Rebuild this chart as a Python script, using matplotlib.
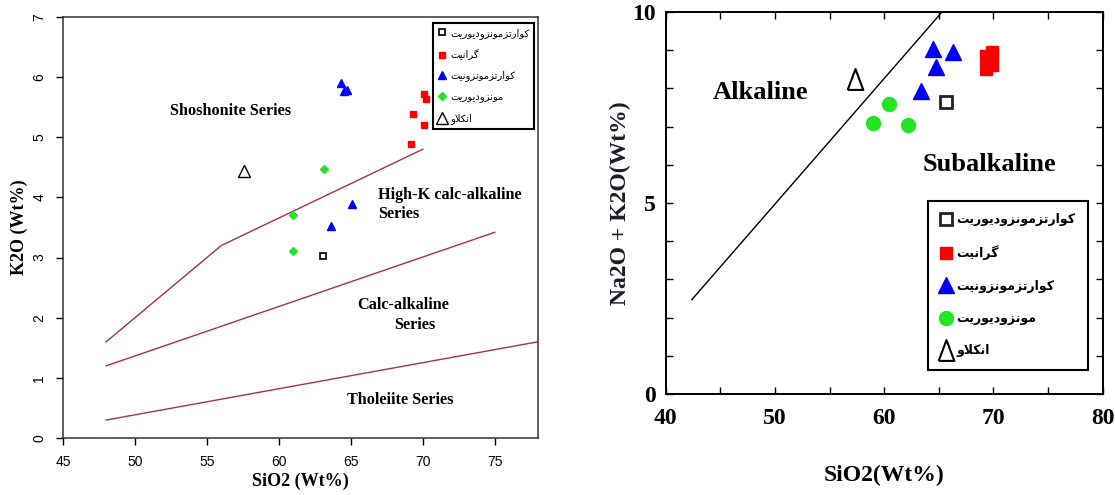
import matplotlib
matplotlib.use('Agg')
import matplotlib.pyplot as plt
from matplotlib.ticker import MultipleLocator

# rock groups (Persian legend labels)
names = ['کوارتزمونزودیوریت', 'گرانیت', 'کوارتزمونزونیت', 'مونزودیوریت', 'انکلاو']

# --- K2O vs SiO2 (left panel) ---
qmd_sio2 = [63.05]
qmd_k2o = [3.03]
gr_sio2 = [69.2, 69.3, 70.05, 70.2, 70.1]
gr_k2o = [4.89, 5.39, 5.71, 5.64, 5.21]
qm_sio2 = [64.3, 64.5, 64.7, 63.6, 65.1]
qm_k2o = [5.90, 5.76, 5.79, 3.53, 3.89]
md_sio2 = [63.1, 61.0, 61.0]
md_k2o = [4.47, 3.71, 3.11]
enc_sio2 = [57.55]
enc_k2o = [4.43]

# series boundaries
shos_x = [48, 56, 70]
shos_y = [1.6, 3.2, 4.8]
calc_x = [48, 75]
calc_y = [1.2, 3.42]
thol_x = [48, 78]
thol_y = [0.3, 1.6]

# --- Na2O+K2O vs SiO2 (right panel) ---
tas_qmd_sio2 = [65.7]
tas_qmd_alk = [7.64]
tas_gr_sio2 = [69.3, 69.9, 69.3, 69.9, 69.8]
tas_gr_alk = [8.85, 8.95, 8.5, 8.6, 8.75]
tas_qm_sio2 = [64.5, 66.3, 64.7, 63.4]
tas_qm_alk = [9.02, 8.95, 8.55, 7.92]
tas_md_sio2 = [60.4, 59.0, 62.2]
tas_md_alk = [7.6, 7.1, 7.05]
tas_enc_sio2 = [57.3]
tas_enc_alk = [8.25]

alk_x = [42.4, 65.3]
alk_y = [2.47, 10.0]

# minimal Persian shaping (matplotlib has no complex text layout)
FORMS = {  # isolated, final, initial, medial
    'ا': ('\uFE8D', '\uFE8E', None, None),
    'ت': ('\uFE95', '\uFE96', '\uFE97', '\uFE98'),
    'د': ('\uFEA9', '\uFEAA', None, None),
    'ر': ('\uFEAD', '\uFEAE', None, None),
    'ز': ('\uFEAF', '\uFEB0', None, None),
    'ل': ('\uFEDD', '\uFEDE', '\uFEDF', '\uFEE0'),
    'م': ('\uFEE1', '\uFEE2', '\uFEE3', '\uFEE4'),
    'ن': ('\uFEE5', '\uFEE6', '\uFEE7', '\uFEE8'),
    'و': ('\uFEED', '\uFEEE', None, None),
    'ی': ('\uFBFC', '\uFBFD', '\uFBFE', '\uFBFF'),
    'ک': ('\uFB8E', '\uFB8F', '\uFB90', '\uFB91'),
    'گ': ('\uFB92', '\uFB93', '\uFB94', '\uFB95'),
}


def shape(word):
    out = []
    i = 0
    prev_joins = False
    while i < len(word):
        ch = word[i]
        nxt = word[i + 1] if i + 1 < len(word) else None
        if ch == 'ل' and nxt == 'ا':
            out.append('\uFEFC' if prev_joins else '\uFEFB')
            prev_joins = False
            i += 2
            continue
        iso, fin, ini, med = FORMS[ch]
        next_joins = ini is not None and nxt is not None
        if prev_joins and next_joins:
            out.append(med)
        elif prev_joins:
            out.append(fin)
        elif next_joins:
            out.append(ini)
        else:
            out.append(iso)
        prev_joins = ini is not None
        i += 1
    return ''.join(reversed(out))


labels = [shape(n) for n in names]

plt.rcParams['font.family'] = ['Liberation Serif', 'DejaVu Sans']
line_col = '#a8323e'
ann = dict(fontsize=11.7, fontweight='bold', va='center')

fig = plt.figure(figsize=(11.15, 4.95), dpi=100)

# left: K2O vs SiO2
ax1 = fig.add_axes([0.0565, 0.115, 0.426, 0.851])
ax1.plot(shos_x, shos_y, color=line_col, lw=1)
ax1.plot(calc_x, calc_y, color=line_col, lw=1)
ax1.plot(thol_x, thol_y, color=line_col, lw=1)
ax1.plot(qmd_sio2, qmd_k2o, 's', ms=5, mfc='white', mec='black', mew=1.2, ls='none', label=labels[0])
ax1.plot(gr_sio2, gr_k2o, 's', ms=5, color='red', ls='none', label=labels[1])
ax1.plot(qm_sio2, qm_k2o, '^', ms=6, color='blue', ls='none', label=labels[2])
ax1.plot(md_sio2, md_k2o, 'D', ms=4, color='#22e522', ls='none', label=labels[3])
ax1.plot(enc_sio2, enc_k2o, '^', ms=8, mfc='white', mec='black', mew=1, ls='none', label=labels[4])

ax1.text(52.45, 5.44, 'Shoshonite Series', **ann)
ax1.text(66.9, 4.04, 'High-K calc-alkaline', **ann)
ax1.text(66.9, 3.73, 'Series', **ann)
ax1.text(65.46, 2.21, 'Calc-alkaline', **ann)
ax1.text(68.03, 1.88, 'Series', **ann)
ax1.text(68.45, 0.63, 'Tholeiite Series', ha='center', **ann)

ax1.set_xlim(45, 78)
ax1.set_ylim(0, 7)
ax1.set_xticks(range(45, 80, 5))
ax1.set_yticks(range(0, 8))
ax1.tick_params(direction='out', length=5, width=1, labelsize=10, pad=7)
for t in ax1.get_xticklabels() + ax1.get_yticklabels():
    t.set_family('Liberation Sans')
for t in ax1.get_yticklabels():
    t.set_rotation(90)
    t.set_va('center')
for s in ax1.spines.values():
    s.set_linewidth(1.1)
    s.set_color('#333333')
ax1.set_xlabel('SiO2 (Wt%)', fontsize=13, fontweight='bold', labelpad=3)
ax1.set_ylabel('K2O (Wt%)', fontsize=13, fontweight='bold', labelpad=3)

leg1 = ax1.legend(loc='upper right', bbox_to_anchor=(0.992, 0.986),
                  prop={'family': 'DejaVu Sans', 'size': 7.2}, frameon=True,
                  fancybox=False, framealpha=1, edgecolor='black',
                  borderpad=0.5, labelspacing=1.05, handletextpad=0.4, handlelength=0.8,
                  borderaxespad=0)
leg1.get_frame().set_linewidth(1.5)

# right: Na2O + K2O vs SiO2
ax2 = fig.add_axes([0.597, 0.204, 0.392, 0.772])
ax2.plot(alk_x, alk_y, color='black', lw=1)
enc_mark = [(-0.75, -1), (0.75, -1), (0, 1), (-0.75, -1)]
ax2.plot(tas_qmd_sio2, tas_qmd_alk, 's', ms=9, mfc='white', mec='#222222', mew=2, ls='none', label=labels[0])
ax2.plot(tas_gr_sio2, tas_gr_alk, 's', ms=9, color='red', ls='none', label=labels[1])
ax2.plot(tas_qm_sio2, tas_qm_alk, '^', ms=12, color='blue', ls='none', label=labels[2])
ax2.plot(tas_md_sio2, tas_md_alk, 'o', ms=10, color='#22e522', ls='none', label=labels[3])
ax2.plot(tas_enc_sio2, tas_enc_alk, marker=enc_mark, ms=15, mfc='white', mec='black', mew=1.5,
         ls='none', label=labels[4])

ax2.text(44.3, 7.9, 'Alkaline', fontsize=19, fontweight='bold', va='center')
ax2.text(63.5, 6.0, 'Subalkaline', fontsize=19, fontweight='bold', va='center')

ax2.set_xlim(40, 80)
ax2.set_ylim(0, 10)
ax2.set_xticks([40, 50, 60, 70, 80])
ax2.set_yticks([0, 5, 10])
ax2.xaxis.set_minor_locator(MultipleLocator(5))
ax2.yaxis.set_minor_locator(MultipleLocator(1))
ax2.tick_params(which='both', direction='in', top=True, right=True, length=5, width=1)
ax2.tick_params(axis='x', labelsize=17, pad=10)
ax2.tick_params(axis='y', labelsize=17, pad=7)
for t in ax2.get_xticklabels() + ax2.get_yticklabels():
    t.set_fontweight('bold')
for s in ax2.spines.values():
    s.set_linewidth(1.4)
ax2.set_xlabel('SiO2(Wt%)', fontsize=17, fontweight='bold', labelpad=26)
ax2.set_ylabel('Na2O + K2O(Wt%)', fontsize=17, fontweight='bold', labelpad=1, color='#1c1c2c')

leg2 = ax2.legend(loc='lower left', bbox_to_anchor=(0.600, 0.063), frameon=True,
                  prop={'family': 'DejaVu Sans', 'size': 9.0, 'weight': 'bold'},
                  fancybox=False, framealpha=1, edgecolor='black',
                  borderpad=1.0, labelspacing=1.55, handletextpad=0.45, handlelength=0.85,
                  borderaxespad=0)
leg2.get_frame().set_linewidth(1.5)

fig.savefig('out.png', dpi=100)
